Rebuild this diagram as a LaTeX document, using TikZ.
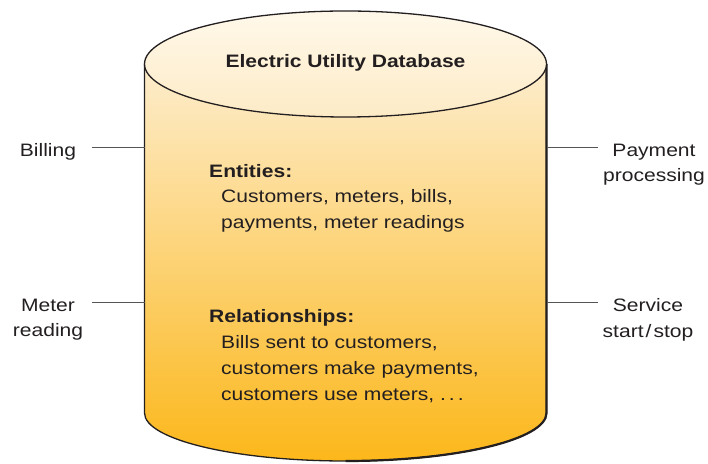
\documentclass[tikz,border=0pt]{standalone}
\usepackage{fontspec}
\setmainfont{Liberation Sans}[FakeStretch=1.17]
\definecolor{ink}{HTML}{231F20}
\definecolor{topcream}{HTML}{FFF8EA}
\definecolor{lidbot}{HTML}{FDEBC6}
\definecolor{bodytop}{HTML}{FDEDCD}
\definecolor{bodybot}{HTML}{FCB71A}
\definecolor{linegray}{HTML}{555555}
\tikzset{
  txt/.style={inner sep=0pt, text=ink, font=\fontsize{18}{25.5}\selectfont},
  head/.style={txt, font=\fontsize{18}{25.5}\selectfont\bfseries},
  side/.style={txt, align=center, anchor=base},
  link/.style={draw=linegray, line width=1pt},
  outline/.style={draw=ink, line width=1.3pt}
}
\begin{document}
\begin{tikzpicture}[x=1pt,y=1pt]
\useasboundingbox (0,0) rectangle (708,463);
% body
\shade[top color=bodytop, bottom color=bodybot]
  (144.5,399) -- (144.5,50) arc[start angle=180,end angle=360,x radius=201,y radius=48] -- (546.5,399) -- cycle;
\draw[outline] (144.5,399) -- (144.5,50) arc[start angle=180,end angle=360,x radius=201,y radius=48] -- (546.5,399);
\draw[draw=ink, line width=2.2pt] (546.5,399) -- (546.5,50) arc[start angle=0,end angle=-90,x radius=201,y radius=48];
% lid
\shade[top color=topcream, bottom color=lidbot] (345.5,399) ellipse[x radius=201, y radius=53];
\draw[outline] (345.5,399) ellipse[x radius=201, y radius=53];
% texts
\node[head, anchor=base] (title) at (345.5,395) {Electric Utility Database};
\node[head, anchor=base west] (ent) at (209,285) {Entities:};
\node[txt, anchor=base west] (ent1) at (221,260) {Customers, meters, bills,};
\node[txt, anchor=base west] (ent2) at (221,234) {payments, meter readings};
\node[head, anchor=base west] (rel) at (209,140) {Relationships:};
\node[txt, anchor=base west] (rel1) at (221,115) {Bills sent to customers,};
\node[txt, anchor=base west] (rel2) at (221,89) {customers make payments,};
\node[txt, anchor=base west] (rel3) at (221,63) {customers use meters, .\,.\,.};
% side labels (base anchor = last line)
\node[side] (billing) at (48,306) {Billing};
\node[side] (meter) at (48,126.5) {Meter\\reading};
\node[side] (payment) at (654,281) {Payment\\processing};
\node[side] (service) at (648,126) {Service\\start\kern2pt/\kern2pt stop};
% connector ends
\coordinate (cL1) at (144.5,315);
\coordinate (cL2) at (144.5,160);
\coordinate (cR1) at (546.5,315);
\coordinate (cR2) at (546.5,160);
\coordinate (pL1) at (92,315);
\coordinate (pL2) at (92,160);
\coordinate (pR1) at (598,315);
\coordinate (pR2) at (598,160);
\draw[link] (pL1) -- (cL1);
\draw[link] (pL2) -- (cL2);
\draw[link] (cR1) -- (pR1);
\draw[link] (cR2) -- (pR2);
\end{tikzpicture}
\end{document}
